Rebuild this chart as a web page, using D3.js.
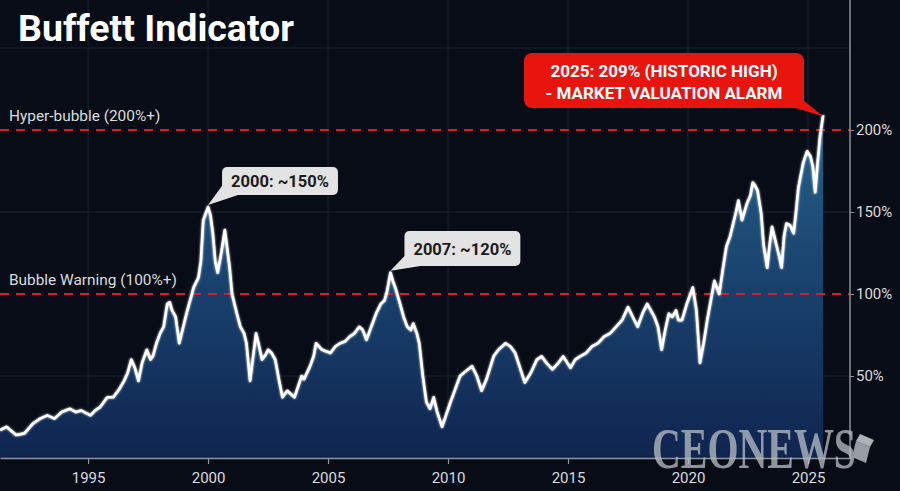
<!DOCTYPE html>
<html>
<head>
<meta charset="utf-8">
<script src="https://cdn.jsdelivr.net/npm/d3@7"></script>
<style>
html,body{margin:0;padding:0;background:#080c16;}
svg{display:block;}
</style>
</head>
<body>
<svg id="chart" width="900" height="491"></svg>
<script>
// ---- data ----
const years = [1991.33,1991.6,1992.0,1992.35,1992.7,1993.0,1993.3,1993.6,1993.9,1994.25,1994.5,1994.7,1995.1,1995.3,1995.5,1995.8,1996.05,1996.3,1996.5,1996.65,1996.8,1996.95,1997.1,1997.25,1997.45,1997.6,1997.7,1997.85,1998.0,1998.15,1998.3,1998.4,1998.5,1998.65,1998.8,1999.0,1999.1,1999.25,1999.4,1999.6,1999.7,1999.8,2000.0,2000.1,2000.2,2000.3,2000.4,2000.55,2000.7,2000.9,2001.0,2001.2,2001.35,2001.5,2001.6,2001.75,2002.0,2002.1,2002.25,2002.4,2002.5,2002.65,2002.8,2002.95,2003.1,2003.3,2003.6,2003.9,2004.0,2004.25,2004.4,2004.5,2004.75,2005.1,2005.3,2005.5,2005.7,2005.9,2006.1,2006.3,2006.45,2006.6,2006.85,2007.0,2007.2,2007.35,2007.45,2007.6,2007.7,2007.8,2008.0,2008.15,2008.3,2008.45,2008.55,2008.7,2008.8,2008.95,2009.1,2009.25,2009.4,2009.55,2009.75,2010.1,2010.3,2010.5,2010.75,2011.0,2011.2,2011.4,2011.6,2011.75,2011.9,2012.1,2012.4,2012.6,2012.8,2013.0,2013.2,2013.45,2013.7,2013.9,2014.1,2014.35,2014.6,2014.8,2015.1,2015.3,2015.5,2015.75,2016.0,2016.25,2016.5,2016.75,2017.0,2017.25,2017.5,2017.7,2017.9,2018.1,2018.3,2018.45,2018.6,2018.75,2018.9,2019.05,2019.2,2019.35,2019.5,2019.6,2019.75,2019.95,2020.2,2020.35,2020.5,2020.65,2020.8,2020.95,2021.1,2021.2,2021.3,2021.45,2021.6,2021.75,2021.85,2022.0,2022.1,2022.25,2022.35,2022.45,2022.6,2022.7,2022.8,2022.9,2023.05,2023.15,2023.3,2023.4,2023.5,2023.6,2023.7,2023.8,2023.9,2024.0,2024.1,2024.25,2024.4,2024.5,2024.6,2024.8,2024.96,2025.1,2025.2,2025.3,2025.4,2025.5,2025.63];
const ratio = [17,19,14,15,21,24,26,24,28,30,28,29,26,29,31,37,37,42,47,52,60,55,47,58,66,60,62,70,76,80,94,95,90,86,70,82,88,96,104,110,120,145,153,148,137,120,113,125,139,116,100,88,80,76,70,47,76,70,60,63,66,64,60,48,37,41,37,50,48,56,62,70,66,64,68,70,71,74,76,80,78,72,82,88,94,96,101,113,108,104,94,86,80,78,82,76,70,50,34,30,37,28,19,34,42,50,53,56,50,41,48,55,62,66,70,68,64,55,46,52,60,62,58,54,58,62,55,60,62,64,68,70,74,76,80,84,92,86,80,88,94,90,86,80,66,78,88,86,90,84,84,94,104,90,58,70,84,96,108,104,100,115,129,135,141,150,157,145,150,155,160,168,166,163,149,130,116,130,141,135,129,123,116,135,143,142,137,150,165,180,187,184,178,162,180,196,209];
const xTicks = [1995,2000,2005,2010,2015,2020,2025];
const yTicks = [50,100,150,200];
const gridY = [50,150,250];
const thresholds = [{v:200,label:"Hyper-bubble (200%+)"},{v:100,label:"Bubble Warning (100%+)"}];
const callouts = [
  {year:2000.0, v:153, text:"2000: ~150%"},
  {year:2007.6, v:113, text:"2007: ~120%"}
];
const peakNote = {year:2025.63, v:209, lines:["2025: 209% (HISTORIC HIGH)","- MARKET VALUATION ALARM"]};
const title = "Buffett Indicator";
const watermark = "CEONEWS";

// ---- drawing ----
const FONT = "Roboto, 'Noto Sans', sans-serif";
const svg = d3.select("#chart");
const W = 900, H = 491;
const x = d3.scaleLinear().domain([1991.33, 2026.75]).range([0, 850]);
const y = d3.scaleLinear().domain([0, 250]).range([458, 48]);
const data = years.map((yr,i)=>({year:yr, v:ratio[i]}));

svg.append("rect").attr("width",W).attr("height",H).attr("fill","#080c16");

const defs = svg.append("defs");
const grad = defs.append("linearGradient").attr("id","fillGrad")
  .attr("gradientUnits","userSpaceOnUse").attr("x1",0).attr("x2",0).attr("y1",y(210)).attr("y2",y(0));
grad.append("stop").attr("offset","0%").attr("stop-color","#26638b");
grad.append("stop").attr("offset","45%").attr("stop-color","#1a4470");
grad.append("stop").attr("offset","100%").attr("stop-color","#0f2550");
const glow = defs.append("filter").attr("id","glow").attr("x","-5%").attr("y","-5%").attr("width","110%").attr("height","110%");
glow.append("feGaussianBlur").attr("stdDeviation",1.2).attr("result","b");
const m = glow.append("feMerge"); m.append("feMergeNode").attr("in","b"); m.append("feMergeNode").attr("in","SourceGraphic");

// gridlines
svg.append("g").selectAll("line").data(xTicks).join("line")
  .attr("x1",d=>x(d)).attr("x2",d=>x(d)).attr("y1",0).attr("y2",y(0))
  .attr("stroke","#1b2230").attr("stroke-width",1);
svg.append("g").selectAll("line").data(gridY).join("line")
  .attr("x1",0).attr("x2",x(2026.75)).attr("y1",d=>y(d)).attr("y2",d=>y(d))
  .attr("stroke","#1b2230").attr("stroke-width",1);

// area
const area = d3.area().x(d=>x(d.year)).y0(y(0)).y1(d=>y(d.v));
svg.append("path").datum(data).attr("d",area).attr("fill","url(#fillGrad)");

// threshold lines
svg.append("g").selectAll("line").data(thresholds).join("line")
  .attr("x1",0).attr("x2",x(2026.75)).attr("y1",d=>y(d.v)).attr("y2",d=>y(d.v))
  .attr("stroke","#e3191c").attr("stroke-width",2.2).attr("stroke-dasharray","9,7");
svg.append("g").selectAll("text").data(thresholds).join("text")
  .attr("x",9).attr("y",d=>y(d.v)-9).text(d=>d.label)
  .style("font-family",FONT).style("font-size","15.4px").attr("fill","#dcdcdc");

// line
const line = d3.line().x(d=>x(d.year)).y(d=>y(d.v));
svg.append("path").datum(data).attr("d",line).attr("fill","none")
  .attr("stroke","#ffffff").attr("stroke-width",2.6).attr("stroke-linejoin","round").attr("filter","url(#glow)");

// axes
const xAxis = d3.axisBottom(x).tickValues(xTicks).tickFormat(d3.format("d")).tickSize(6).tickSizeOuter(0);
const gx = svg.append("g").attr("transform",`translate(0,${y(0)})`).call(xAxis);
gx.select(".domain").attr("stroke","#8d939c").attr("stroke-width",1.5);
gx.selectAll(".tick line").attr("stroke","#8d939c").attr("stroke-width",1.2);
gx.selectAll(".tick text").attr("fill","#dcdcdc").attr("dy","1.05em").style("font-family",FONT).style("font-size","15px");

const yAxis = d3.axisRight(y).tickValues(yTicks).tickFormat(d=>d+"%").tickSize(4).tickSizeOuter(0);
const gy = svg.append("g").attr("transform",`translate(${x(2026.75)},0)`).call(yAxis);
gy.select(".domain").attr("d",`M0,0V${y(0)}`).attr("stroke","#8d939c").attr("stroke-width",1.5);
gy.selectAll(".tick line").attr("stroke","#8d939c");
gy.selectAll(".tick text").attr("fill","#dcdcdc").attr("x",6).style("font-family",FONT).style("font-size","15px");

// watermark
const wm = svg.append("g").attr("opacity",0.75);
wm.append("text").attr("x",652).attr("y",468).text(watermark)
  .style("font-family","'Liberation Serif','DejaVu Serif',serif").style("font-weight","bold")
  .style("font-size","58px").attr("textLength",204).attr("lengthAdjust","spacingAndGlyphs").attr("fill","#b9c0c8");
wm.append("polygon").attr("points","856,441 870,447 866,463 852,457").attr("fill","#c9ced4");
wm.append("polygon").attr("points","856,441 870,447 874,440 860,434").attr("fill","#e6e8ea");

// callouts
callouts.forEach((c,i)=>{
  const px = x(c.year), py = y(c.v);
  const bx = px+14, by = i===0 ? 167 : 231, bh = i===0 ? 28 : 35;
  const g = svg.append("g");
  const t = g.append("text").style("font-family",FONT).style("font-weight","bold").style("font-size","16.5px").attr("fill","#1c1c1c").text(c.text);
  const tw = t.node().getComputedTextLength();
  const bw = tw + 18;
  g.insert("path","text").attr("d",`M${bx+2},${by+bh-12} L${px},${py-2} L${bx+16},${by+bh} Z`).attr("fill","#e3e3e3");
  g.insert("rect","text").attr("x",bx).attr("y",by).attr("width",bw).attr("height",bh).attr("rx",5).attr("fill","#e3e3e3");
  t.attr("x",bx+bw/2).attr("y",by+bh/2+6).attr("text-anchor","middle");
});

// peak note
{
  const px = x(peakNote.year), py = y(peakNote.v);
  const g = svg.append("g");
  g.append("path").attr("d",`M782,104 L${px},${py+1} L803,100 Z`).attr("fill","#e8140e");
  g.append("rect").attr("x",524).attr("y",53).attr("width",280).attr("height",55).attr("rx",8).attr("fill","#e8140e");
  peakNote.lines.forEach((l,i)=>{
    g.append("text").attr("x",664).attr("y",77+i*21.5).attr("text-anchor","middle")
      .style("font-family",FONT).style("font-weight","bold").style("font-size","17px").attr("fill","#ffffff").text(l);
  });
}

// title
svg.append("text").attr("x",18).attr("y",41).text(title)
  .style("font-family",FONT).style("font-weight","bold").style("font-size","37.5px").attr("fill","#ffffff");
</script>
</body>
</html>
